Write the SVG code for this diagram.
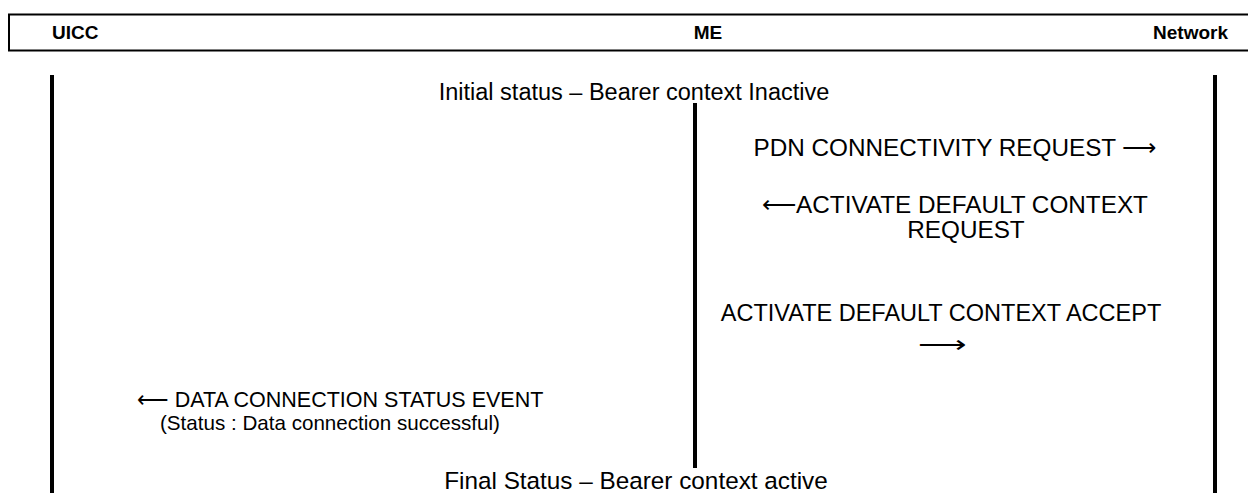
<svg xmlns="http://www.w3.org/2000/svg" width="1248" height="493" viewBox="0 0 1248 493">
<style>
.hdr{font-family:"Liberation Sans",Arial,sans-serif;font-size:19px;font-weight:bold;fill:#000}
.t{font-family:"Liberation Sans",Arial,sans-serif;font-size:23.5px;fill:#000;text-anchor:middle}
.b{font-size:24.3px}
.s{font-size:21.5px}
.s2{font-size:20.6px}
.life{stroke:#000;stroke-width:4;fill:none}
</style>
<rect width="1248" height="493" fill="#fff"/>
<g id="header">
<rect x="9" y="14.5" width="1245" height="36" fill="none" stroke="#000" stroke-width="2"/>
</g>
<g id="uicc">
<text class="hdr" x="52" y="39">UICC</text>
<line class="life" x1="52" y1="75" x2="52" y2="493"/>
</g>
<g id="me">
<text class="hdr" x="708" y="39" text-anchor="middle">ME</text>
<line class="life" x1="695" y1="103" x2="695" y2="468"/>
</g>
<g id="network">
<text class="hdr" x="1228" y="39" text-anchor="end">Network</text>
<line class="life" x1="1215" y1="75" x2="1215" y2="493"/>
</g>
<g id="connectors">
<text class="t" x="634" y="100">Initial status – Bearer context Inactive</text>
<text class="t b" x="955" y="156">PDN CONNECTIVITY REQUEST ⟶</text>
<text class="t b" x="955" y="213">⟵ACTIVATE DEFAULT CONTEXT</text>
<text class="t b" x="966" y="238">REQUEST</text>
<text class="t" x="941" y="321">ACTIVATE DEFAULT CONTEXT ACCEPT</text>
<text class="t" x="942" y="353" textLength="48" lengthAdjust="spacingAndGlyphs" text-anchor="start">⟶</text>
<text class="t s" x="340" y="407">⟵ DATA CONNECTION STATUS EVENT</text>
<text class="t s2" x="330" y="430">(Status : Data connection successful)</text>
<text class="t b" x="636" y="489">Final Status – Bearer context active</text>
</g>
</svg>
